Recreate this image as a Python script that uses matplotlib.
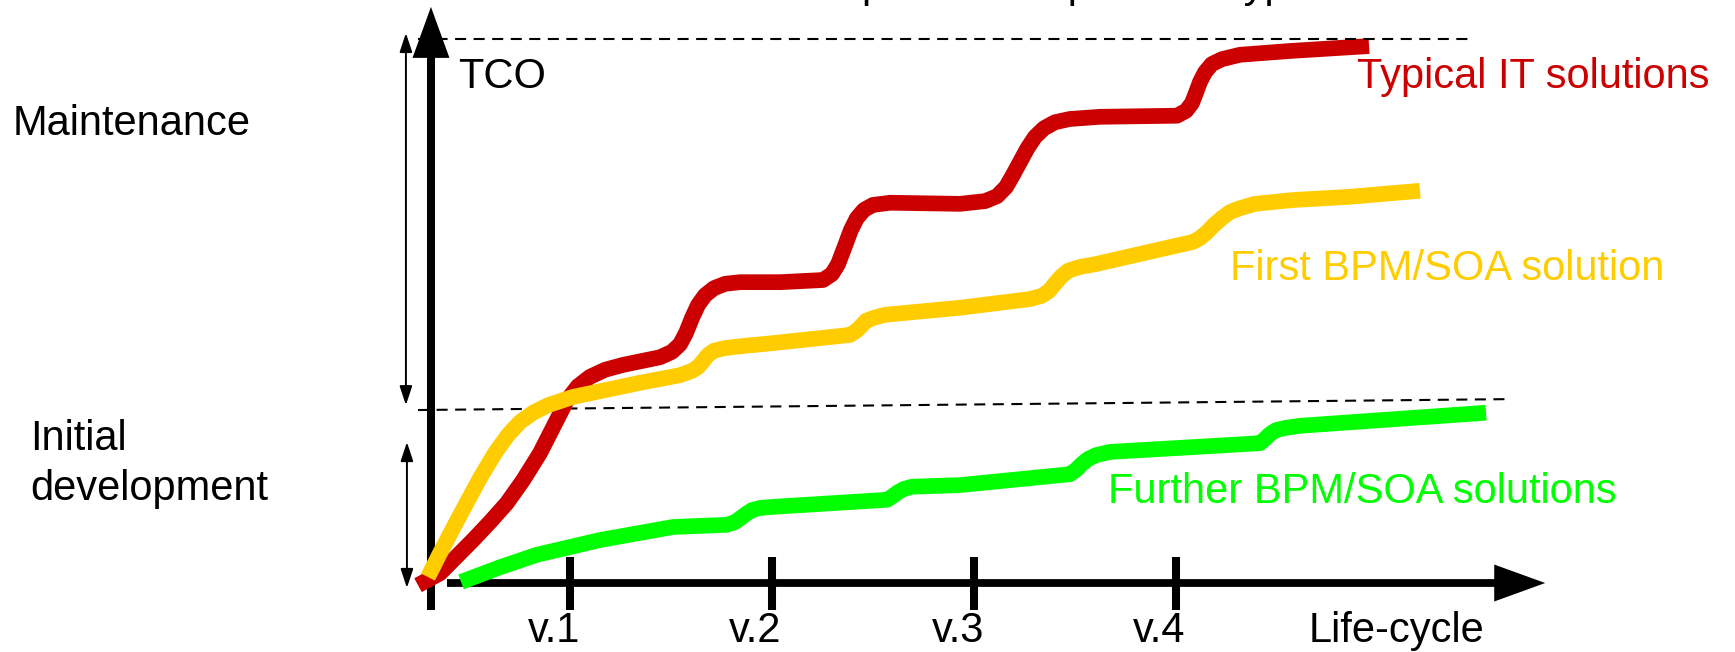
import matplotlib
matplotlib.use("Agg")
import matplotlib.pyplot as plt

plt.rcParams['font.family'] = ['Liberation Sans', 'DejaVu Sans']

# TCO over the life-cycle (x: versions, y: TCO in % of the top line)
red_x = [0.249, 0.358, 0.521, 0.605, 0.689, 0.769, 0.853, 0.986, 1.041, 1.100, 1.175, 1.264,
         1.447, 1.506, 1.546, 1.576, 1.605, 1.635, 1.670, 1.714, 1.769, 1.843, 2.041, 2.254,
         2.298, 2.328, 2.363, 2.392, 2.422, 2.457, 2.501, 2.585, 2.932, 3.056, 3.115, 3.160,
         3.194, 3.229, 3.264, 3.303, 3.348, 3.402, 3.476, 3.625, 4.006, 4.051, 4.080, 4.100,
         4.120, 4.145, 4.179, 4.229, 4.318, 4.566, 4.957]
red_y = [-0.4, 1.8, 7.9, 11.2, 14.7, 18.9, 23.9, 33.6, 36.2, 37.9, 39.2, 40.1,
         41.5, 42.5, 43.9, 46.0, 48.7, 51.1, 52.9, 54.2, 55.0, 55.3, 55.3, 55.7,
         56.8, 58.6, 62.0, 64.9, 67.1, 68.6, 69.5, 69.9, 69.7, 70.2, 71.1, 72.8,
         75.0, 77.4, 79.8, 82.0, 83.6, 84.7, 85.3, 85.7, 85.9, 86.8, 88.2, 90.1,
         92.1, 93.9, 95.4, 96.3, 97.1, 97.8, 98.7]

yellow_x = [0.298, 0.358, 0.457, 0.556, 0.630, 0.694, 0.754, 0.818, 0.893, 1.015, 1.347, 1.546,
            1.605, 1.635, 1.660, 1.684, 1.714, 1.769, 1.868, 2.006, 2.387, 2.417, 2.442, 2.467,
            2.501, 2.560, 2.932, 3.279, 3.338, 3.373, 3.402, 3.432, 3.467, 3.526, 3.601, 4.085,
            4.120, 4.155, 4.189, 4.229, 4.269, 4.318, 4.393, 4.580, 4.862, 5.209]
yellow_y = [1.1, 5.5, 12.5, 19.3, 23.9, 27.2, 29.6, 31.3, 32.7, 34.2, 36.8, 38.2,
            39.0, 39.7, 40.8, 41.9, 42.7, 43.2, 43.6, 44.1, 45.6, 46.3, 47.2, 48.2,
            48.7, 49.3, 50.6, 52.2, 52.8, 53.7, 55.0, 56.3, 57.4, 58.1, 58.6, 62.7,
            63.4, 64.5, 65.8, 67.1, 68.2, 68.9, 69.7, 70.4, 71.0, 72.1]

green_x = [0.462, 0.655, 0.838, 1.150, 1.511, 1.778, 1.818, 1.848, 1.873, 1.902, 1.942, 2.006,
           2.571, 2.600, 2.625, 2.655, 2.694, 2.932, 3.476, 3.506, 3.536, 3.566, 3.605, 3.675,
           4.417, 4.442, 4.467, 4.497, 4.541, 4.615, 5.536]
green_y = [0.2, 2.9, 5.2, 7.9, 10.3, 10.7, 11.2, 12.0, 12.7, 13.4, 13.8, 14.0,
           15.3, 16.0, 16.7, 17.3, 17.7, 18.0, 20.0, 20.8, 21.9, 22.8, 23.5, 24.1,
           25.7, 26.5, 27.4, 28.1, 28.5, 28.9, 31.3]

versions = [1, 2, 3, 4]
version_labels = ['v.1', 'v.2', 'v.3', 'v.4']

fig = plt.figure(figsize=(17.35, 6.52), dpi=100)
ax = fig.add_axes([0, 0, 1, 1])
ax.set_xlim(-1.8205, 6.7686)
ax.set_ylim(-12.68, 107.17)
ax.axis('off')

fs = 30
dash = (0, (5.3, 3.6))
curve = dict(lw=11.3, solid_capstyle='butt', solid_joinstyle='round', zorder=3)

# axes drawn as arrows
ax.plot([0.313, 0.313], [-4.96, 97.0], color='k', lw=5.8, solid_capstyle='butt', zorder=2)
ax.annotate('', xy=(0.313, 105.9), xytext=(0.313, 90),
            arrowprops=dict(arrowstyle='-|>,head_length=36.7,head_width=13.3',
                            mutation_scale=1, lw=0, color='k', shrinkA=0, shrinkB=0), zorder=2)
ax.plot([0.392, 5.6], [0, 0], color='k', lw=5.6, solid_capstyle='butt', zorder=2)
ax.annotate('', xy=(5.829, 0), xytext=(5.4, 0),
            arrowprops=dict(arrowstyle='-|>,head_length=36.7,head_width=13.3',
                            mutation_scale=1, lw=0, color='k', shrinkA=0, shrinkB=0), zorder=2)
ax.vlines(versions, -4.96, 4.78, color='k', lw=5.8, zorder=2)
for v, lab in zip(versions, version_labels):
    ax.text(v - 0.08, -10.85, lab, fontsize=fs, ha='center', va='baseline')
ax.text(4.656, -10.85, 'Life-cycle', fontsize=fs, ha='left', va='baseline')
ax.text(0.447, 91.0, 'TCO', fontsize=fs, ha='left', va='baseline')

# reference levels
ax.plot([0.25, 5.447], [100, 100], color='k', lw=1.5, linestyle=dash, zorder=4)
ax.plot([0.249, 5.640], [31.8, 33.8], color='k', lw=1.5, linestyle=dash, zorder=1)

# brackets on the left
ax.annotate('', xy=(0.189, 101.1), xytext=(0.189, 32.7),
            arrowprops=dict(arrowstyle='<|-|>,head_length=11.5,head_width=3.8',
                            mutation_scale=1, lw=1.4, color='k', shrinkA=0, shrinkB=0))
ax.annotate('', xy=(0.194, 25.9), xytext=(0.194, -0.9),
            arrowprops=dict(arrowstyle='<|-|>,head_length=11.5,head_width=3.8',
                            mutation_scale=1, lw=1.4, color='k', shrinkA=0, shrinkB=0))
ax.text(-1.757, 82.35, 'Maintenance', fontsize=fs, ha='left', va='baseline')
ax.text(-1.672, 24.45, 'Initial', fontsize=fs, ha='left', va='baseline')
ax.text(-1.672, 15.26, 'development', fontsize=fs, ha='left', va='baseline')

# curves
ax.plot(red_x, red_y, color='#CC0000', **curve)
ax.plot(yellow_x, yellow_y, color='#FFCC00', **curve)
ax.plot(green_x, green_y, color='#00FF00', **curve)

ax.text(4.898, 91.0, 'Typical IT solutions', fontsize=fs, color='#CC0000', ha='left', va='baseline')
ax.text(4.270, 55.7, 'First BPM/SOA solution', fontsize=fs, color='#FFCC00', ha='left', va='baseline')
ax.text(3.666, 14.71, 'Further BPM/SOA solutions', fontsize=fs, color='#00FF00', ha='left', va='baseline')

# title, mostly cut off at the top edge of the picture (as in the original)
ax.text(1.348, 107.7, 'TCO development compared to typical IT solutions', fontsize=fs,
        ha='left', va='baseline', clip_on=False)

fig.savefig('out.png', dpi=100)
